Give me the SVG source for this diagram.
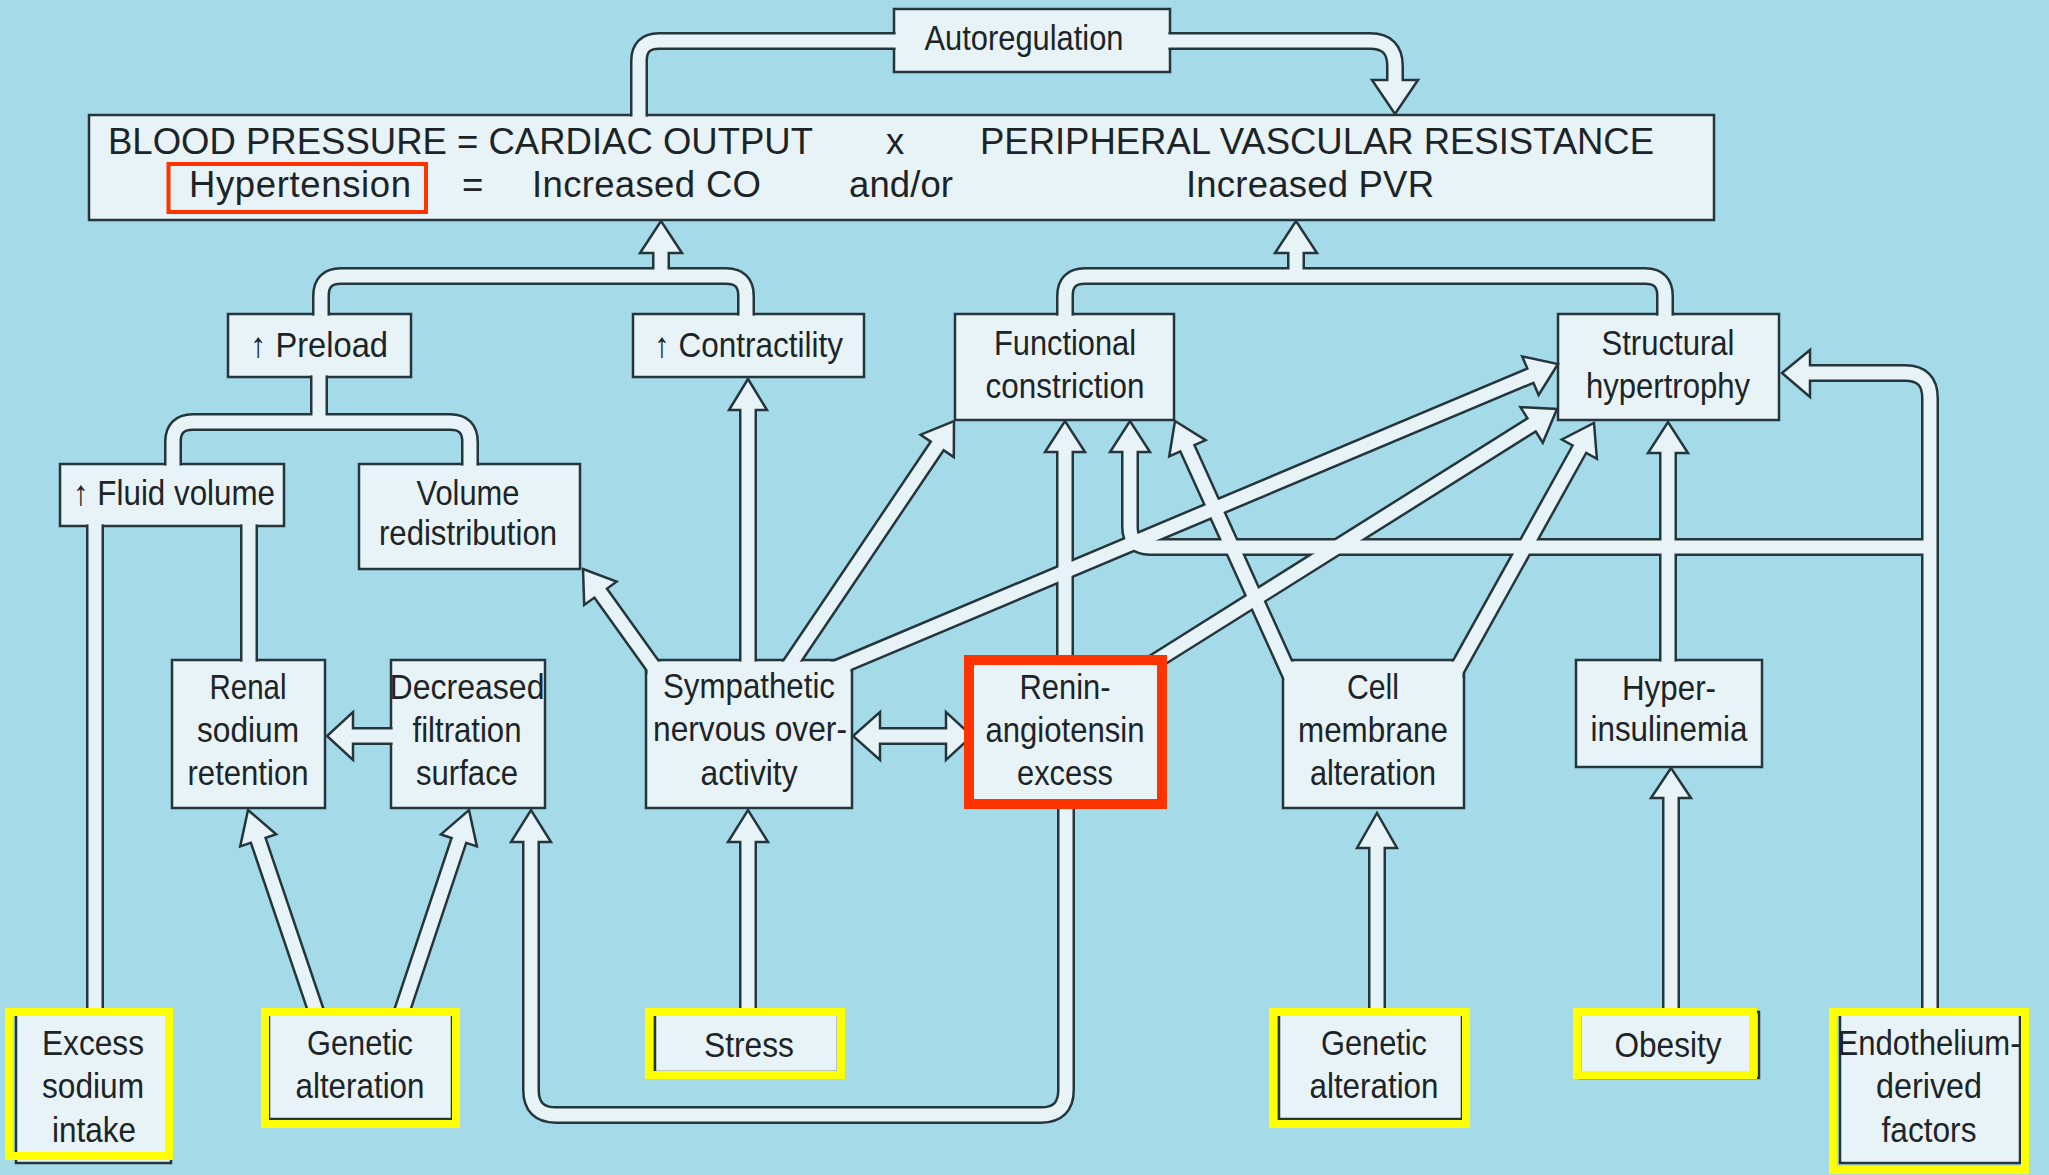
<svg xmlns="http://www.w3.org/2000/svg" width="2049" height="1175" viewBox="0 0 2049 1175">
<style>
.box{fill:#e7f3f7;stroke:#24363c;stroke-width:2.5}
.t{font-family:"Liberation Sans Narrow","Liberation Sans",Arial,sans-serif;font-size:35px;fill:#1d2427;text-anchor:middle}
.ts{text-anchor:start}
.m{font-family:"Liberation Sans",Arial,sans-serif;font-size:36.5px;fill:#1d2427}
.dark{fill:none;stroke:#24363c;stroke-width:18}
.light{fill:none;stroke:#e7f3f7;stroke-width:13}
.head{fill:#e7f3f7;stroke:#24363c;stroke-width:2.5;stroke-linejoin:miter}
.hly{fill:none;stroke:#ffff00;stroke-width:8}
.hlr{fill:#e7f3f7;stroke:#ff3300;stroke-width:10}
.hlr2{fill:none;stroke:#ff3300;stroke-width:4}
</style>
<defs>
<path id="p-autoL" d="M639,121 V61 Q639,41 659,41 H900"/>
<path id="p-autoR" d="M1164,41 H1370 Q1395,41 1395,66 V86"/>
<path id="p-co" d="M321,320 V296 Q321,276 341,276 H726 Q746,276 746,296 V320 M661,276 V247"/>
<path id="p-pvr" d="M1065,320 V296 Q1065,276 1085,276 H1645 Q1665,276 1665,296 V320 M1296,276 V247"/>
<path id="p-pre" d="M319,371 V422 M173,470 V442 Q173,422 193,422 H450 Q470,422 470,442 V470"/>
<path id="p-renal" d="M249,520 V666"/>
<path id="p-excess" d="M95,520 V1020"/>
<path id="p-decr" d="M397,736 H347"/>
<path id="p-symvol" d="M655.2,669.3 L597,588"/>
<path id="p-symcon" d="M748,666 V404"/>
<path id="p-symfun" d="M788.5,666.6 L940.6,440.9"/>
<path id="p-symstr" d="M833.8,668.9 L1535.9,373.4"/>
<path id="p-reninstr" d="M1143,669 L1536.7,421.7"/>
<path id="p-cellstr" d="M1453.2,676.2 L1582.3,444"/>
<path id="p-cellfun" d="M1290.8,676.8 L1184.9,442.8"/>
<path id="p-reninfun" d="M1065,670 V446"/>
<path id="p-endo" d="M1930,1020 V398 Q1930,373 1905,373 H1804 M1930,547 H1150 Q1130,547 1130,527 V446"/>
<path id="p-hyper" d="M1668,666 V447"/>
<path id="p-obes" d="M1671,1020 V792"/>
<path id="p-genr" d="M1377,1020 V842"/>
<path id="p-stress" d="M748,1020 V836"/>
<path id="p-renindec" d="M1066,800 V1090 Q1066,1115 1041,1115 H556 Q531,1115 531,1090 V836"/>
<path id="p-genl1" d="M318.2,1017.5 L256.3,834.6"/>
<path id="p-genl2" d="M399.8,1017.5 L460.8,834.7"/>
<path id="p-double" d="M874,736 H952"/>
<mask id="mDark" maskUnits="userSpaceOnUse" x="0" y="0" width="2049" height="1175">
<rect width="2049" height="1175" fill="#fff"/>
<g fill="#000">
<rect x="895.5" y="10.5" width="273" height="60"/>
<rect x="90.5" y="116.5" width="1622" height="102"/>
<rect x="229.5" y="315.5" width="180" height="60"/>
<rect x="634.5" y="315.5" width="228" height="60"/>
<rect x="956.5" y="315.5" width="216" height="103"/>
<rect x="1559.5" y="315.5" width="218" height="103"/>
<rect x="61.5" y="465.5" width="221" height="59"/>
<rect x="360.5" y="465.5" width="218" height="102"/>
<rect x="173.5" y="661.5" width="150" height="145"/>
<rect x="392.5" y="661.5" width="151" height="145"/>
<rect x="647.5" y="661.5" width="203" height="145"/>
<rect x="1284.5" y="661.5" width="178" height="145"/>
<rect x="1577.5" y="661.5" width="183" height="104"/>
<rect x="5" y="1008" width="168" height="152"/>
<rect x="261" y="1008" width="199" height="120"/>
<rect x="645" y="1008" width="200" height="71"/>
<rect x="1269" y="1008" width="201" height="120"/>
<rect x="1573" y="1008" width="184" height="71"/>
<rect x="1829" y="1008" width="200" height="167"/>
<rect x="964" y="655" width="203" height="154"/>
</g>
</mask>
<mask id="mLight" maskUnits="userSpaceOnUse" x="0" y="0" width="2049" height="1175">
<rect width="2049" height="1175" fill="#fff"/>
<g fill="#000">
<rect x="5" y="1008" width="168" height="152"/>
<rect x="261" y="1008" width="199" height="120"/>
<rect x="645" y="1008" width="200" height="71"/>
<rect x="1269" y="1008" width="201" height="120"/>
<rect x="1573" y="1008" width="184" height="71"/>
<rect x="1829" y="1008" width="200" height="167"/>
<rect x="964" y="655" width="203" height="154"/>
</g>
</mask>
</defs>
<rect width="2049" height="1175" fill="#a5dbe9"/>

<g id="n-autoregulation">
<rect class="box" x="894" y="9" width="276" height="63"/>
<text class="t" x="1024" y="50" font-size="36" textLength="199" lengthAdjust="spacingAndGlyphs">Autoregulation</text>
</g>
<g id="n-bloodpressure">
<rect class="box" x="89" y="115" width="1625" height="105"/>
<text class="m" x="108" y="154" textLength="705" lengthAdjust="spacing">BLOOD PRESSURE = CARDIAC OUTPUT</text>
<text class="m" x="886" y="154">x</text>
<text class="m" x="980" y="154" textLength="674" lengthAdjust="spacing">PERIPHERAL VASCULAR RESISTANCE</text>
<text class="m" x="189" y="197" textLength="222" lengthAdjust="spacing">Hypertension</text>
<text class="m" x="462" y="197">=</text>
<text class="m" x="532" y="197" textLength="229" lengthAdjust="spacing">Increased CO</text>
<text class="m" x="849" y="197" textLength="104" lengthAdjust="spacing">and/or</text>
<text class="m" x="1186" y="197" textLength="248" lengthAdjust="spacing">Increased PVR</text>
<rect class="hlr2" x="168.5" y="164" width="257.5" height="48"/>
</g>
<g id="n-preload">
<rect class="box" x="228" y="314" width="183" height="63"/>
<text class="t ts" x="250" y="357" textLength="138" lengthAdjust="spacingAndGlyphs">↑ Preload</text>
</g>
<g id="n-contractility">
<rect class="box" x="633" y="314" width="231" height="63"/>
<text class="t ts" x="654" y="357" textLength="189" lengthAdjust="spacingAndGlyphs">↑ Contractility</text>
</g>
<g id="n-functional">
<rect class="box" x="955" y="314" width="219" height="106"/>
<text class="t" x="1065" y="355" textLength="142" lengthAdjust="spacingAndGlyphs">Functional</text>
<text class="t" x="1065" y="398" textLength="159" lengthAdjust="spacingAndGlyphs">constriction</text>
</g>
<g id="n-structural">
<rect class="box" x="1558" y="314" width="221" height="106"/>
<text class="t" x="1668" y="355" textLength="133" lengthAdjust="spacingAndGlyphs">Structural</text>
<text class="t" x="1668" y="398" textLength="164" lengthAdjust="spacingAndGlyphs">hypertrophy</text>
</g>
<g id="n-fluid">
<rect class="box" x="60" y="464" width="224" height="62"/>
<text class="t ts" x="73" y="505" textLength="202" lengthAdjust="spacingAndGlyphs">↑ Fluid volume</text>
</g>
<g id="n-volredist">
<rect class="box" x="359" y="464" width="221" height="105"/>
<text class="t" x="468" y="505" textLength="103" lengthAdjust="spacingAndGlyphs">Volume</text>
<text class="t" x="468" y="545" textLength="178" lengthAdjust="spacingAndGlyphs">redistribution</text>
</g>
<g id="n-renal">
<rect class="box" x="172" y="660" width="153" height="148"/>
<text class="t" x="248" y="699" textLength="77" lengthAdjust="spacingAndGlyphs">Renal</text>
<text class="t" x="248" y="742" textLength="102" lengthAdjust="spacingAndGlyphs">sodium</text>
<text class="t" x="248" y="785" textLength="121" lengthAdjust="spacingAndGlyphs">retention</text>
</g>
<g id="n-decreased">
<rect class="box" x="391" y="660" width="154" height="148"/>
<text class="t" x="467" y="699" textLength="155" lengthAdjust="spacingAndGlyphs">Decreased</text>
<text class="t" x="467" y="742" textLength="109" lengthAdjust="spacingAndGlyphs">filtration</text>
<text class="t" x="467" y="785" textLength="102" lengthAdjust="spacingAndGlyphs">surface</text>
</g>
<g id="n-sympathetic">
<rect class="box" x="646" y="660" width="206" height="148"/>
<text class="t" x="749" y="698" textLength="172" lengthAdjust="spacingAndGlyphs">Sympathetic</text>
<text class="t" x="750" y="741" textLength="194" lengthAdjust="spacingAndGlyphs">nervous over-</text>
<text class="t" x="749" y="785" textLength="97" lengthAdjust="spacingAndGlyphs">activity</text>
</g>
<g id="n-renin">
<rect class="hlr" x="969" y="660" width="193" height="144"/>
<text class="t" x="1065" y="699" textLength="91" lengthAdjust="spacingAndGlyphs">Renin-</text>
<text class="t" x="1065" y="742" textLength="159" lengthAdjust="spacingAndGlyphs">angiotensin</text>
<text class="t" x="1065" y="785" textLength="96" lengthAdjust="spacingAndGlyphs">excess</text>
</g>
<g id="n-cell">
<rect class="box" x="1283" y="660" width="181" height="148"/>
<text class="t" x="1373" y="699" textLength="52" lengthAdjust="spacingAndGlyphs">Cell</text>
<text class="t" x="1373" y="742" textLength="150" lengthAdjust="spacingAndGlyphs">membrane</text>
<text class="t" x="1373" y="785" textLength="126" lengthAdjust="spacingAndGlyphs">alteration</text>
</g>
<g id="n-hyper">
<rect class="box" x="1576" y="660" width="186" height="107"/>
<text class="t" x="1669" y="700" textLength="94" lengthAdjust="spacingAndGlyphs">Hyper-</text>
<text class="t" x="1669" y="741" textLength="157" lengthAdjust="spacingAndGlyphs">insulinemia</text>
</g>
<g id="n-excess">
<rect class="box" x="16" y="1012" width="155" height="151"/>
<text class="t" x="93" y="1055" textLength="102" lengthAdjust="spacingAndGlyphs">Excess</text>
<text class="t" x="93" y="1098" textLength="102" lengthAdjust="spacingAndGlyphs">sodium</text>
<text class="t" x="94" y="1142" textLength="84" lengthAdjust="spacingAndGlyphs">intake</text>
<rect class="hly" x="9" y="1012" width="160" height="144"/>
</g>
<g id="n-genetic1">
<rect class="box" x="269" y="1012" width="183" height="107"/>
<text class="t" x="360" y="1055" textLength="106" lengthAdjust="spacingAndGlyphs">Genetic</text>
<text class="t" x="360" y="1098" textLength="129" lengthAdjust="spacingAndGlyphs">alteration</text>
<rect class="hly" x="265" y="1012" width="191" height="112"/>
</g>
<g id="n-stress">
<rect class="box" x="655" y="1012" width="183" height="60"/>
<text class="t" x="749" y="1057" textLength="90" lengthAdjust="spacingAndGlyphs">Stress</text>
<rect class="hly" x="649" y="1012" width="192" height="63"/>
</g>
<g id="n-genetic2">
<rect class="box" x="1279" y="1012" width="183" height="107"/>
<text class="t" x="1374" y="1055" textLength="106" lengthAdjust="spacingAndGlyphs">Genetic</text>
<text class="t" x="1374" y="1098" textLength="129" lengthAdjust="spacingAndGlyphs">alteration</text>
<rect class="hly" x="1273" y="1012" width="193" height="112"/>
</g>
<g id="n-obesity">
<rect class="box" x="1580" y="1012" width="179" height="66"/>
<text class="t" x="1668" y="1057" textLength="107" lengthAdjust="spacingAndGlyphs">Obesity</text>
<rect class="hly" x="1577" y="1012" width="176" height="63"/>
</g>
<g id="n-endothelium">
<rect class="box" x="1840" y="1012" width="180" height="151"/>
<text class="t" x="1929" y="1055" textLength="183" lengthAdjust="spacingAndGlyphs">Endothelium-</text>
<text class="t" x="1929" y="1098" textLength="106" lengthAdjust="spacingAndGlyphs">derived</text>
<text class="t" x="1929" y="1142" textLength="95" lengthAdjust="spacingAndGlyphs">factors</text>
<rect class="hly" x="1833" y="1012" width="192" height="158"/>
</g>

<g id="connectors">
<g mask="url(#mDark)">
<use class="dark" href="#p-autoL"/><use class="dark" href="#p-autoR"/>
<use class="dark" href="#p-co"/><use class="dark" href="#p-pvr"/>
<use class="dark" href="#p-pre"/><use class="dark" href="#p-renal"/>
<use class="dark" href="#p-excess"/><use class="dark" href="#p-decr"/>
<use class="dark" href="#p-symvol"/><use class="dark" href="#p-symcon"/>
<use class="dark" href="#p-symfun"/><use class="dark" href="#p-symstr"/>
<use class="dark" href="#p-reninstr"/><use class="dark" href="#p-cellstr"/>
<use class="dark" href="#p-cellfun"/><use class="dark" href="#p-reninfun"/>
<use class="dark" href="#p-endo"/><use class="dark" href="#p-hyper"/>
<use class="dark" href="#p-obes"/><use class="dark" href="#p-genr"/>
<use class="dark" href="#p-stress"/><use class="dark" href="#p-renindec"/>
<use class="dark" href="#p-genl1"/><use class="dark" href="#p-genl2"/>
<use class="dark" href="#p-double"/>
</g>
<g mask="url(#mLight)">
<polygon class="head" points="1372,80 1418,80 1395,114"/>
<polygon class="head" points="640,253 682,253 661,221"/>
<polygon class="head" points="1275,253 1317,253 1296,221"/>
<polygon class="head" points="353,712 353,760 327,736"/>
<polygon class="head" points="583,569 616.6,581.7 584.2,604.9"/>
<polygon class="head" points="729,410 767,410 748,379"/>
<polygon class="head" points="954,421 953.8,457.1 920.6,434.7"/>
<polygon class="head" points="1558,364 1538.6,395 1522.2,356.4"/>
<polygon class="head" points="1557,409 1542.8,442.7 1520.4,407.1"/>
<polygon class="head" points="1594,423 1596.9,458.9 1561.9,439.5"/>
<polygon class="head" points="1175,421 1205.6,440.1 1169.2,456.5"/>
<polygon class="head" points="1045,452 1085,452 1065,421"/>
<polygon class="head" points="1110,452 1150,452 1130,421"/>
<polygon class="head" points="1810,350 1810,397 1782,373"/>
<polygon class="head" points="1648,453 1688,453 1668,422"/>
<polygon class="head" points="1651,798 1691,798 1671,768"/>
<polygon class="head" points="1357,848 1397,848 1377,813"/>
<polygon class="head" points="728,842 768,842 748,810"/>
<polygon class="head" points="511,842 551,842 531,810"/>
<polygon class="head" points="248,810 276.2,834.2 240.2,846.4"/>
<polygon class="head" points="469,810 476.9,846.4 440.9,834.4"/>
<polygon class="head" points="880,712 880,760 853,736"/>
<polygon class="head" points="946,712 946,760 972,736"/>
<use class="light" href="#p-autoL"/><use class="light" href="#p-autoR"/>
<use class="light" href="#p-co"/><use class="light" href="#p-pvr"/>
<use class="light" href="#p-pre"/><use class="light" href="#p-renal"/>
<use class="light" href="#p-excess"/><use class="light" href="#p-decr"/>
<use class="light" href="#p-symvol"/><use class="light" href="#p-symcon"/>
<use class="light" href="#p-symfun"/><use class="light" href="#p-symstr"/>
<use class="light" href="#p-reninstr"/><use class="light" href="#p-cellstr"/>
<use class="light" href="#p-cellfun"/><use class="light" href="#p-reninfun"/>
<use class="light" href="#p-endo"/><use class="light" href="#p-hyper"/>
<use class="light" href="#p-obes"/><use class="light" href="#p-genr"/>
<use class="light" href="#p-stress"/><use class="light" href="#p-renindec"/>
<use class="light" href="#p-genl1"/><use class="light" href="#p-genl2"/>
<use class="light" href="#p-double"/>
</g>
</g>
</svg>
